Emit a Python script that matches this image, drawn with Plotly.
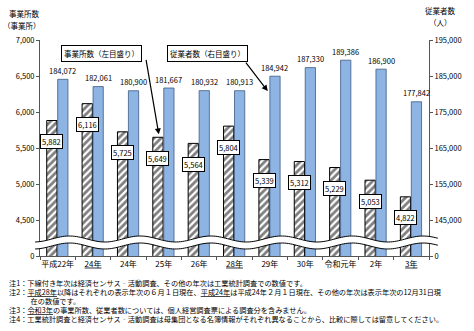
import math
import plotly.graph_objects as go

categories = ['平成22年', '<u>24年</u>', '24年', '25年', '26年', '<u>28年</u>',
              '29年', '30年', '令和元年', '2年', '<u>3年</u>']
establishments = [5882, 6116, 5725, 5649, 5564, 5804, 5339, 5312, 5229, 5053, 4822]
employees = [184072, 182061, 180900, 181667, 180932, 180913, 184942, 187330, 189386, 186900, 177842]

left_ticks = [4000, 4500, 5000, 5500, 6000, 6500, 7000]
left_ticktext = ['0', '4,500', '5,000', '5,500', '6,000', '6,500', '7,000']
right_ticks = [135000, 145000, 155000, 165000, 175000, 185000, 195000]
right_ticktext = ['0', '145,000', '155,000', '165,000', '175,000', '185,000', '195,000']

notes = [
    '注1：下線付き年次は経済センサス‐活動調査、その他の年次は工業統計調査での数値です。',
    '注2：<u>平成28年</u>以降はそれぞれの表示年次の６月１日現在、<u>平成24年</u>は平成24年２月１日現在、その他の年次は表示年次の12月31日現',
    '　　　在の数値です。',
    '注3：<u>令和3年</u>の事業所数、従業者数については、個人経営調査票による調査分を含みません。',
    '注4：工業統計調査と経済センサス‐活動調査は母集団となる名簿情報がそれぞれ異なることから、比較に際しては留意してください。',
]

FONT = 'Noto Sans CJK JP, Noto Sans, sans-serif'
W, H = 474, 331
L, R, T, B = 40, 38, 40, 75
PW, PH = W - L - R, H - T - B


def px(p):
    return (p - L) / PW


def py(p):
    return (H - B - p) / PH


x = list(range(len(categories)))

fig = go.Figure()
fig.add_trace(go.Bar(
    x=x, y=establishments, yaxis='y', name='事業所数',
    offset=-0.31, width=0.29,
    marker=dict(color='white', line=dict(color='black', width=1),
                pattern=dict(shape='/', fgcolor='black', bgcolor='white', size=5, solidity=0.55)),
))
fig.add_trace(go.Bar(
    x=x, y=employees, yaxis='y2', name='従業者数',
    offset=0.0, width=0.29,
    marker=dict(color='#8DB4E2', line=dict(color='#3E5C85', width=0.8)),
))

small = dict(size=7.5, color='black', family=FONT)
annotations = []
for i, v in enumerate(establishments):
    annotations.append(dict(x=i - 0.165, y=v, xref='x', yref='y', yshift=-21,
                            text=f'{v:,}', showarrow=False, bgcolor='white',
                            xanchor='center', yanchor='middle',
                            bordercolor='black', borderwidth=1, borderpad=1, font=small))
for i, v in enumerate(employees):
    annotations.append(dict(x=i + 0.145, y=v, xref='x', yref='y2', yshift=9,
                            xanchor='center', yanchor='middle',
                            text=f'{v:,}', showarrow=False, font=small))

# callout boxes
annotations.append(dict(x=px(103), y=py(53), xref='paper', yref='paper', text='事業所数（左目盛り）',
                        xanchor='center', yanchor='middle',
                        showarrow=False, bgcolor='white', bordercolor='black', borderwidth=1,
                        borderpad=2, font=small))
annotations.append(dict(x=px(211), y=py(54), xref='paper', yref='paper', text='従業者数（右目盛り）',
                        xanchor='center', yanchor='middle',
                        showarrow=False, bgcolor='white', bordercolor='black', borderwidth=1,
                        borderpad=2, font=small))
annotations.append(dict(x=2.86, y=5690, xref='x', yref='y', text='', showarrow=True,
                        ax=-13, ay=-76, arrowhead=2, arrowsize=1, arrowwidth=1.2, arrowcolor='black'))
annotations.append(dict(x=5.94, y=180800, xref='x', yref='y2', text='', showarrow=True,
                        ax=-23, ay=-30, arrowhead=2, arrowsize=1, arrowwidth=1.2, arrowcolor='black'))

# axis titles
for tx, xx, yy in [('事業所数', 24, 14), ('（事業所）', 22, 25), ('従業者数', 448, 11), ('（人）', 448, 22)]:
    annotations.append(dict(x=px(xx), y=py(yy), xref='paper', yref='paper', text=tx,
                            xanchor='center', yanchor='middle', showarrow=False, font=small))

note_y = [283, 292, 301, 310, 319]
for t, yy in zip(notes, note_y):
    annotations.append(dict(x=px(6), y=py(yy), xref='paper', yref='paper', text=t,
                            xanchor='left', yanchor='middle', showarrow=False,
                            font=dict(size=7.2, color='black', family=FONT)))

# axis break band (decorative)
def wave(offset):
    pts = []
    xs = [35 + k * 2 for k in range(0, 206)]
    for xp in xs:
        yp = 239 + offset - 3 * math.cos(2 * math.pi * (xp - 70) / 72)
        pts.append((px(xp), py(yp)))
    return pts

top = wave(0)
bot = wave(7)
band = 'M ' + ' L '.join(f'{a:.4f},{b:.4f}' for a, b in top) + ' L ' + \
       ' L '.join(f'{a:.4f},{b:.4f}' for a, b in reversed(bot)) + ' Z'
line_top = 'M ' + ' L '.join(f'{a:.4f},{b:.4f}' for a, b in top)
line_bot = 'M ' + ' L '.join(f'{a:.4f},{b:.4f}' for a, b in bot)
shapes = [
    dict(type='path', path=band, xref='paper', yref='paper', fillcolor='white',
         line=dict(width=0), layer='above'),
    dict(type='path', path=line_top, xref='paper', yref='paper',
         line=dict(color='black', width=1), layer='above'),
    dict(type='path', path=line_bot, xref='paper', yref='paper',
         line=dict(color='black', width=1), layer='above'),
]

fig.update_layout(
    width=W, height=H,
    margin=dict(l=L, r=R, t=T, b=B),
    paper_bgcolor='white', plot_bgcolor='white',
    showlegend=False,
    font=dict(family=FONT),
    xaxis=dict(range=[-0.5, len(categories) - 0.5], tickvals=x, ticktext=categories,
               tickfont=dict(size=8, color='black', family=FONT), showgrid=False,
               showline=True, linecolor='#555', linewidth=1, ticks='', zeroline=False,
               minor=dict(tick0=-0.5, dtick=1, ticks='outside', ticklen=3, tickcolor='#555')),
    yaxis=dict(range=[4000, 7000], tickvals=left_ticks, ticktext=left_ticktext,
               tickfont=small, showgrid=False, showline=True, linecolor='#555',
               ticks='outside', ticklen=3, tickcolor='#555', zeroline=False),
    yaxis2=dict(range=[135000, 195000], tickvals=right_ticks, ticktext=right_ticktext,
                tickfont=small, showgrid=False, showline=True, linecolor='#555',
                ticks='outside', ticklen=3, tickcolor='#555', zeroline=False,
                overlaying='y', side='right'),
    annotations=annotations,
    shapes=shapes,
)

fig.write_html('out.html')
